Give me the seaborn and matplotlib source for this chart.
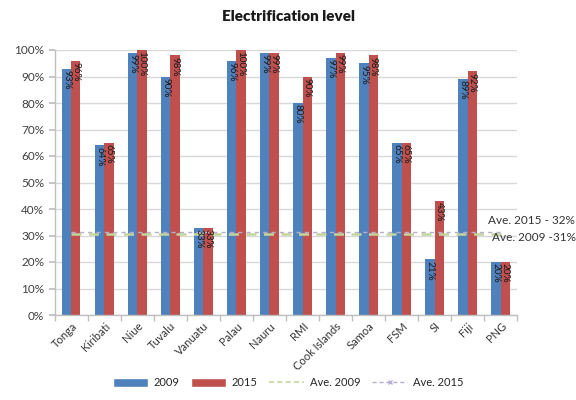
import matplotlib
matplotlib.use("Agg")
import matplotlib.pyplot as plt
import seaborn as sns
import pandas as pd
from matplotlib.ticker import PercentFormatter, FixedLocator
from matplotlib.patches import Patch
from matplotlib.lines import Line2D

countries = ["Tonga", "Kiribati", "Niue", "Tuvalu", "Vanuatu", "Palau", "Nauru",
             "RMI", "Cook Islands", "Samoa", "FSM", "SI", "Fiji", "PNG"]
level_2009 = [93, 64, 99, 90, 33, 96, 99, 80, 97, 95, 65, 21, 89, 20]
level_2015 = [96, 65, 100, 98, 33, 100, 99, 90, 99, 98, 65, 43, 92, 20]
ave_2009 = 31
ave_2015 = 32

sns.set_theme(style="white")
plt.rcParams["font.family"] = ["Lato", "DejaVu Sans"]

df = pd.DataFrame({
    "country": countries * 2,
    "year": ["2009"] * len(countries) + ["2015"] * len(countries),
    "value": level_2009 + level_2015,
})

fig = plt.figure(figsize=(5.76, 4.0), dpi=100)
ax = fig.add_axes([0.095, 0.2125, 0.803, 0.6625])

palette = {"2009": "#4f81bd", "2015": "#c0504d"}
sns.barplot(data=df, x="country", y="value", hue="year", palette=palette,
            width=0.56, saturation=1, ax=ax, zorder=2, legend=False,
            linewidth=0, edgecolor="none")

# value labels inside the top of each bar
for container, vals in zip(ax.containers, [level_2009, level_2015]):
    for patch, v in zip(container, vals):
        ax.text(patch.get_x() + patch.get_width() / 2, v - 0.5, f"{v}%",
                rotation=-90, ha="center", va="top", fontsize=7.2,
                color="#1a1a1a", zorder=4)

# average lines across the countries
xs = list(range(len(countries)))
ave09_line = [ave_2009 - 0.4] * len(countries)
ave15_line = [ave_2015 - 0.6] * len(countries)
sns.lineplot(x=xs, y=ave09_line, ax=ax, color="#c3d69b", lw=1.8,
             linestyle=(0, (4, 3)), zorder=3)
sns.lineplot(x=xs, y=ave15_line, ax=ax, color="#b8aed0", lw=1.0,
             linestyle=(0, (3, 3)), zorder=3)

ax.text(12.62, 35.8, f"Ave. 2015 - {ave_2015}%", fontsize=8.5, color="#333333",
        ha="left", va="center", clip_on=False, zorder=5)
ax.text(12.75, 29.4, f"Ave. 2009 -{ave_2009}%", fontsize=8.5, color="#333333",
        ha="left", va="center", clip_on=False, zorder=5)

ax.set_xlim(-0.5, len(countries) - 0.5)
ax.set_ylim(0, 100)
ax.yaxis.set_major_locator(FixedLocator(range(0, 101, 10)))
ax.yaxis.set_major_formatter(PercentFormatter(decimals=0))
ax.grid(axis="y", color="#d9d9d9", lw=1.0, zorder=0)
ax.set_xlabel("")
ax.set_ylabel("")

ax.set_xticks(xs)
ax.set_xticklabels(countries, rotation=45, ha="right", rotation_mode="anchor",
                   fontsize=8, color="#333333")
ax.tick_params(axis="x", length=0, pad=4)
ax.set_xticks([i - 0.5 for i in range(len(countries) + 1)], minor=True)
ax.tick_params(axis="x", which="minor", length=4, color="#bfbfbf", bottom=True)
ax.tick_params(axis="y", labelsize=8.5, labelcolor="#404040", length=4,
               color="#bfbfbf", left=True)

for side in ["top", "right"]:
    ax.spines[side].set_visible(False)
for side in ["left", "bottom"]:
    ax.spines[side].set_color("#bfbfbf")
    ax.spines[side].set_linewidth(1.0)

fig.suptitle("Electrification level", x=0.5, y=0.975, fontsize=11,
             fontweight="heavy", color="#1a1a1a")

handles = [
    Patch(facecolor="#4f81bd", label="2009"),
    Patch(facecolor="#c0504d", label="2015"),
    Line2D([], [], color="#c3d69b", lw=1.2, linestyle=(0, (3, 2)), label="Ave. 2009"),
    Line2D([], [], color="#b8aed0", lw=1.0, linestyle=(0, (3, 2)), marker="x",
           markersize=3, label="Ave. 2015"),
]
fig.legend(handles=handles, loc="center", bbox_to_anchor=(0.5, 0.043), ncol=4,
           frameon=False, fontsize=8, handlelength=3.2, handleheight=0.8,
           columnspacing=1.0, handletextpad=0.5)

fig.savefig("out.png", dpi=100, facecolor="white")
